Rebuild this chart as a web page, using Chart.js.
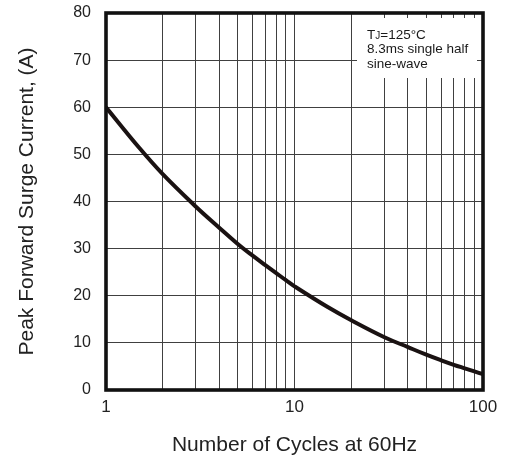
<!DOCTYPE html>
<html>
<head>
<meta charset="utf-8">
<script src="https://cdn.jsdelivr.net/npm/chart.js@4.4.1/dist/chart.umd.min.js"></script>
<style>
html,body{margin:0;padding:0;background:#fff;}
#wrap{width:505px;height:463px;}
</style>
</head>
<body>
<div id="wrap"><canvas id="c" width="505" height="463"></canvas></div>
<script>
const cycles = [1,1.5,2,3,4,5,6,7,8,9,10,15,20,30,40,50,60,70,80,90,100];
const current = [60,51.4,45.8,38.9,34.4,31,28.5,26.5,24.8,23.3,22.0,17.6,14.8,11.2,9.1,7.5,6.3,5.35,4.6,3.95,3.35];
const xTicks = [1,2,3,4,5,6,7,8,9,10,20,30,40,50,60,70,80,90,100];
const xTickLabels = ['1','10','100'];
const yTicks = [0,10,20,30,40,50,60,70,80];
const xTitle = 'Number of Cycles at 60Hz';
const yTitle = 'Peak Forward Surge Current, (A)';
const noteLines = ['8.3ms single half','sine-wave'];

const FONT = 'Liberation Sans, Arial, sans-serif';

const framePlugin = {
  id: 'frame',
  afterDatasetsDraw(chart) {
    const {ctx, chartArea: a} = chart;
    ctx.save();
    // annotation box
    const bx = a.right - 126;
    const by = a.top + 5;
    const bw = 120;
    const bh = 60;
    ctx.fillStyle = '#fff';
    ctx.fillRect(bx, by, bw, bh);
    ctx.fillStyle = '#1a1a1a';
    ctx.textBaseline = 'alphabetic';
    ctx.textAlign = 'left';
    const tx = bx + 10;
    const b0 = by + 20.5;
    ctx.font = '13.5px ' + FONT;
    ctx.fillText('T', tx, b0);
    const tw = ctx.measureText('T').width;
    ctx.font = '10px ' + FONT;
    ctx.fillText('J', tx + tw, b0);
    const jw = ctx.measureText('J').width;
    ctx.font = '13.5px ' + FONT;
    ctx.fillText('=125°C', tx + tw + jw, b0);
    noteLines.forEach((t, i) => ctx.fillText(t, tx, b0 + 14.6 * (i + 1)));
    // frame
    ctx.strokeStyle = '#111';
    ctx.lineWidth = 3.6;
    ctx.strokeRect(a.left, a.top, a.right - a.left, a.bottom - a.top);
    ctx.restore();
  }
};

new Chart(document.getElementById('c'), {
  type: 'line',
  data: {
    datasets: [{
      data: cycles.map((x, i) => ({x, y: current[i]})),
      borderColor: '#1a1212',
      borderWidth: 4,
      pointRadius: 0,
      tension: 0.4,
      fill: false
    }]
  },
  options: {
    responsive: false,
    animation: false,
    layout: {padding: {left: 15, right: 22, top: 13, bottom: 5}},
    plugins: {legend: {display: false}, tooltip: {enabled: false}},
    scales: {
      x: {
        type: 'logarithmic',
        min: 1, max: 100,
        afterBuildTicks(s) { s.ticks = xTicks.map(v => ({value: v})); },
        afterFit(s) { s.height = 68; },
        grid: {color: '#404040', lineWidth: 1, drawTicks: false},
        border: {display: false},
        ticks: {
          autoSkip: false, maxRotation: 0, padding: 7,
          color: '#222', font: {family: FONT, size: 17},
          callback: (v) => xTickLabels.includes(String(v)) ? String(v) : ''
        },
        title: {display: true, text: xTitle, color: '#222', font: {family: FONT, size: 21}, padding: {top: 0, bottom: 0}}
      },
      y: {
        min: 0, max: 80,
        afterBuildTicks(s) { s.ticks = yTicks.map(v => ({value: v})); },
        afterFit(s) { s.width = 91; },
        grid: {color: '#404040', lineWidth: 1, drawTicks: true, tickLength: 15, tickColor: 'rgba(0,0,0,0)'},
        border: {display: false},
        ticks: {padding: 0, color: '#222', font: {family: FONT, size: 16}},
        title: {display: true, text: yTitle, color: '#222', font: {family: FONT, size: 21}, padding: {top: 0, bottom: 0}}
      }
    }
  },
  plugins: [framePlugin]
});
</script>
</body>
</html>
